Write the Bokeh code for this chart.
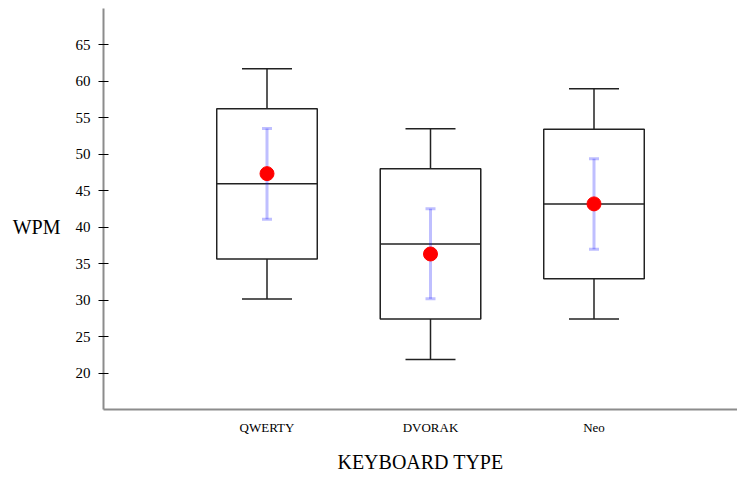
from bokeh.plotting import figure
from bokeh.models import FixedTicker, Range1d, LinearAxis, ColumnDataSource
from bokeh.embed import file_html
from bokeh.resources import INLINE

categories = ["QWERTY", "DVORAK", "Neo"]
positions = [1, 2, 3]
q1 = [35.65, 27.42, 32.92]
median = [45.98, 37.70, 43.20]
q3 = [56.26, 48.03, 53.44]
whisker_low = [30.15, 21.87, 27.42]
whisker_high = [61.72, 53.49, 59.00]
mean = [47.35, 36.33, 43.20]
err_low = [41.11, 30.19, 36.97]
err_high = [53.53, 42.52, 49.40]
y_ticks = [20, 25, 30, 35, 40, 45, 50, 55, 60, 65]
y_label = "WPM"
y_label_at = 40

FONT = "Liberation Serif"
BOX_W = 0.615

src = ColumnDataSource(dict(
    x=positions, q1=q1, median=median, q3=q3, wl=whisker_low, wh=whisker_high,
    mean=mean, el=err_low, eh=err_high,
    xl=[x - BOX_W / 2 for x in positions], xr=[x + BOX_W / 2 for x in positions],
))

p = figure(width=737, height=475, output_backend="svg", toolbar_location=None,
           x_range=Range1d(0, (737 - 103) / 163.5), y_range=Range1d(15, 70),
           min_border_left=103, min_border_right=0, min_border_top=8, min_border_bottom=65)
p.outline_line_color = None
p.xgrid.visible = False
p.ygrid.visible = False
p.background_fill_color = "white"

# whisker stems
p.segment(x0="x", y0="q3", x1="x", y1="wh", source=src, line_color="#222222", line_width=1.5)
p.segment(x0="x", y0="q1", x1="x", y1="wl", source=src, line_color="#222222", line_width=1.5)
# whisker caps
p.dash(x="x", y="wh", source=src, size=50, line_color="#222222", line_width=1.5)
p.dash(x="x", y="wl", source=src, size=50, line_color="#222222", line_width=1.5)
# boxes
p.quad(left="xl", right="xr", bottom="q1", top="q3", source=src,
       fill_color="white", line_color="#222222", line_width=1.5)
# medians
p.segment(x0="xl", y0="median", x1="xr", y1="median", source=src, line_color="#222222", line_width=1.5)
# error bars
p.segment(x0="x", y0="el", x1="x", y1="eh", source=src, line_color="blue", line_alpha=0.25, line_width=3)
p.dash(x="x", y="eh", source=src, size=10, line_color="blue", line_alpha=0.25, line_width=3)
p.dash(x="x", y="el", source=src, size=10, line_color="blue", line_alpha=0.25, line_width=3)
# means
p.scatter(x="x", y="mean", source=src, size=14, fill_color="red", line_color="red")

# y axis
ya = p.yaxis[0]
ya.ticker = FixedTicker(ticks=y_ticks)
ya.minor_tick_line_color = None
ya.major_tick_in = 5
ya.major_tick_out = 5
ya.major_tick_line_color = "black"
ya.major_tick_line_width = 1
ya.axis_line_color = "#8c8c8c"
ya.axis_line_width = 2
ya.major_label_text_font = FONT
ya.major_label_text_font_size = "15px"
ya.major_label_text_color = "black"
ya.major_label_standoff = 8

# horizontal "WPM" label as an outer axis tick label
ya2 = LinearAxis(ticker=FixedTicker(ticks=[y_label_at]),
                 major_label_overrides={y_label_at: y_label})
ya2.axis_line_color = None
ya2.major_tick_line_color = None
ya2.minor_tick_line_color = None
ya2.major_tick_in = 0
ya2.major_tick_out = 0
ya2.major_label_text_font = FONT
ya2.major_label_text_font_size = "20px"
ya2.major_label_text_color = "black"
ya2.major_label_standoff = 12
p.add_layout(ya2, "left")

# x axis
xa = p.xaxis[0]
xa.ticker = FixedTicker(ticks=positions)
xa.major_label_overrides = {pos: cat for pos, cat in zip(positions, categories)}
xa.minor_tick_line_color = None
xa.major_tick_line_color = None
xa.major_tick_in = 0
xa.major_tick_out = 0
xa.axis_line_color = "#8c8c8c"
xa.axis_line_width = 2
xa.major_label_text_font = FONT
xa.major_label_text_font_size = "13px"
xa.major_label_text_color = "black"
xa.major_label_standoff = 10
xa.axis_label = "KEYBOARD TYPE"
xa.axis_label_text_font = FONT
xa.axis_label_text_font_size = "20px"
xa.axis_label_text_font_style = "normal"
xa.axis_label_text_color = "black"
xa.axis_label_standoff = 13

open("out.html", "w").write(file_html(p, INLINE))
